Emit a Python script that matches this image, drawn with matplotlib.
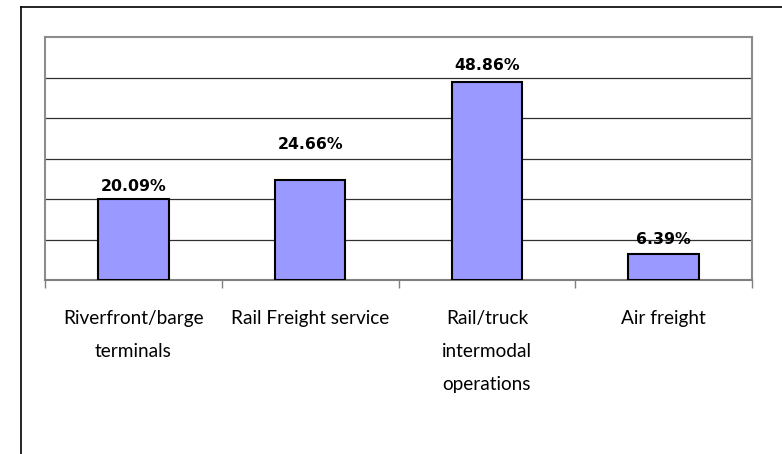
import matplotlib
matplotlib.use('Agg')
import matplotlib.pyplot as plt
from matplotlib.lines import Line2D

categories = ['Riverfront/barge\nterminals', 'Rail Freight service',
              'Rail/truck\nintermodal\noperations', 'Air freight']
values = [20.09, 24.66, 48.86, 6.39]
value_labels = ['20.09%', '24.66%', '48.86%', '6.39%']

# label gap above each bar, in points (as placed in the original)
label_gap = [5.5, 22.5, 9, 7]

plt.rcParams['font.family'] = ['Lato', 'DejaVu Sans']

W, H = 782, 454
fig = plt.figure(figsize=(W / 100, H / 100), dpi=100)
ax = fig.add_axes([45 / W, 1 - 280 / H, (752 - 45) / W, (280 - 37) / H])

x = range(len(categories))
ax.bar(x, values, width=0.40, color='#9999ff', edgecolor='black', linewidth=1.5, zorder=3)

for i, v in enumerate(values):
    ax.annotate(value_labels[i], (i, v), xytext=(0, label_gap[i]), textcoords='offset points',
                ha='center', va='baseline', fontsize=11.3, fontweight='bold',
                family='DejaVu Sans', zorder=4)

ax.set_xlim(-0.5, len(categories) - 0.5)
ax.set_ylim(0, 60)
ax.set_yticks([10, 20, 30, 40, 50])
ax.set_yticklabels([])
ax.tick_params(axis='y', length=0)
ax.grid(axis='y', color='#303030', linewidth=0.9, zorder=1)

ax.set_xticks(list(x))
ax.set_xticklabels(categories, fontsize=13.7, linespacing=2.15)
ax.tick_params(axis='x', which='major', length=0, pad=21.5)
ax.set_xticks([i - 0.5 for i in range(len(categories) + 1)], minor=True)
ax.tick_params(axis='x', which='minor', length=6, color='#808080', width=1)

for side in ['left', 'top', 'right']:
    ax.spines[side].set_color('#8c8c8c')
    ax.spines[side].set_linewidth(1.5)
ax.spines['bottom'].set_color('#808080')
ax.spines['bottom'].set_linewidth(1.5)

# outer frame (cropped chart border)
fig.add_artist(Line2D([20.5 / W, 20.5 / W], [0, 1 - 7 / H], color='black', linewidth=1.2))
fig.add_artist(Line2D([20.5 / W, 1], [1 - 7 / H, 1 - 7 / H], color='black', linewidth=1.2))

fig.savefig('out.png', dpi=100)
